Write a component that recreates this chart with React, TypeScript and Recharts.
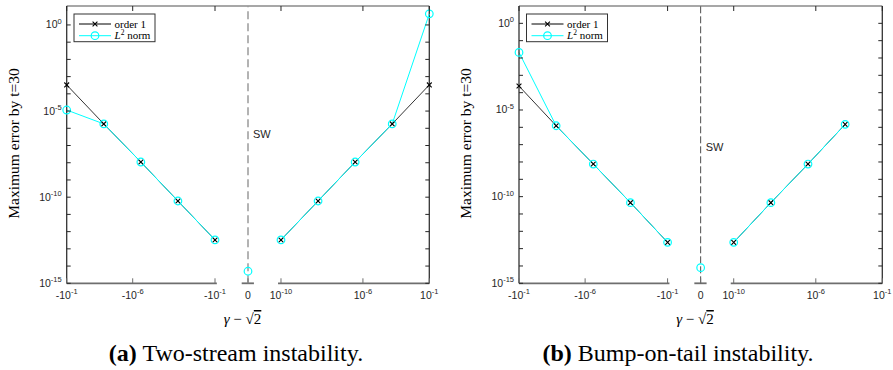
import React from "react";
import { ComposedChart, Line, XAxis, YAxis, ReferenceLine, ReferenceDot } from "recharts";

// gamma - sqrt(2) = -10^e on the left branch, +10^e on the right branch
const leftExps = [-1, -4, -7, -10, -13];
const rightExps = [-13, -10, -7, -4, -1];

// (a) Two-stream instability
const order1LeftA = [3.3e-4, 1.8e-6, 1.1e-8, 6.0e-11, 3.3e-13];
const l2LeftA = [1.15e-5, 1.8e-6, 1.1e-8, 6.0e-11, 3.3e-13];
const order1RightA = [3.3e-13, 6.0e-11, 1.1e-8, 1.8e-6, 3.3e-4];
const l2RightA = [3.3e-13, 6.0e-11, 1.1e-8, 1.8e-6, 4.4];
const l2ZeroA = 5e-15;

// (b) Bump-on-tail instability
const order1LeftB = [2.4e-4, 1.23e-6, 7.6e-9, 4.5e-11, 2.3e-13];
const l2LeftB = [2.1e-2, 1.23e-6, 7.6e-9, 4.5e-11, 2.3e-13];
const order1RightB = [2.3e-13, 4.5e-11, 7.6e-9, 1.48e-6];
const l2RightB = [2.3e-13, 4.5e-11, 7.6e-9, 1.48e-6];
const l2ZeroB = 8e-15;

// broken x axis: tick positions (axis units) and their labels
const xTickPos = [0, 1.78, 4, 4.89, 5.78, 7.99, 9.78];
const xTickBase = ["-10", "-10", "-10", "0", "10", "10", "10"];
const xTickExp = ["-1", "-6", "-1", "", "-10", "-6", "-1"];
const axisPieces = [[0, 4.05], [4.72, 5.05], [5.7, 9.78]];
const yDecades = [-15, -14, -13, -12, -11, -10, -9, -8, -7, -6, -5, -4, -3, -2, -1, 0];

const GAP = 0.89;
const ZERO = 4 + GAP;
const X_MAX = 4 + 2 * GAP + 4;
const posLeft = (e: number) => (-1 - e) / 3;
const posRight = (e: number) => 4 + 2 * GAP + (e + 13) / 3;

const SANS = "'Liberation Sans', Arial, Helvetica, sans-serif";
const SERIF = "'Liberation Serif', 'Times New Roman', Times, serif";
const AXIS = "#262626";
const CYAN = "#00ffff";

const PLOT_TOP = 6;
const PLOT_BOTTOM = 283.3;
const CH = 310;

const branch = (exps: number[], vals: number[], side: "L" | "R") =>
  vals.map((v, i) => ({ x: side === "L" ? posLeft(exps[i]) : posRight(exps[i]), y: v }));

const XMark = (props: any) => {
  const { cx, cy } = props;
  if (cx == null || cy == null) return null;
  const s = 2.4;
  return (
    <path
      key={`x-${cx}-${cy}`}
      d={`M${cx - s},${cy - s}L${cx + s},${cy + s}M${cx - s},${cy + s}L${cx + s},${cy - s}`}
      stroke="#000"
      strokeWidth={1.1}
    />
  );
};

const circleDot = { r: 3.8, stroke: CYAN, strokeWidth: 1.2, fill: "none" };

interface PanelProps {
  left: number;
  width: number;
  plotLeft: number;
  yTopExp: number;
  order1Left: number[];
  l2Left: number[];
  order1Right: number[];
  l2Right: number[];
  l2Zero: number;
  swY: number;
  dashColor: string;
  dashWidth: number;
  dashArray: string;
}

const Panel: React.FC<PanelProps> = (p) => {
  const plotRight = p.width - 10.7;
  const yMax = 10 ** p.yTopExp;

  const yTick = (props: any) => {
    const { y, payload } = props;
    const e = Math.round(Math.log10(payload.value));
    return (
      <g>
        <line x1={p.plotLeft} x2={p.plotLeft + 4} y1={y} y2={y} stroke={AXIS} strokeWidth={1} />
        <line x1={plotRight} x2={plotRight - 4} y1={y} y2={y} stroke={AXIS} strokeWidth={1} />
        {e % 5 === 0 && (
          <text x={p.plotLeft - 5} y={y + 3.5} textAnchor="end" fontFamily={SANS} fontSize={10.5} fill={AXIS}>
            <tspan>10</tspan>
            <tspan dy={-4.5} fontSize={7.5}>{e === 0 ? "0" : String(e)}</tspan>
          </text>
        )}
      </g>
    );
  };

  const xTick = (props: any) => {
    const { x, payload } = props;
    const i = xTickPos.indexOf(payload.value);
    const isZero = xTickBase[i] === "0";
    return (
      <g>
        <line x1={x} x2={x} y1={PLOT_BOTTOM} y2={PLOT_BOTTOM - 5} stroke="#6e6e6e" strokeWidth={1} />
        {!isZero && <line x1={x} x2={x} y1={PLOT_TOP} y2={PLOT_TOP + 5} stroke={AXIS} strokeWidth={1} />}
        <text x={x} y={298.5} textAnchor="middle" fontFamily={SANS} fontSize={10.5} fill={AXIS}>
          <tspan>{xTickBase[i]}</tspan>
          {xTickExp[i] && <tspan dy={-4.5} fontSize={7.5}>{xTickExp[i]}</tspan>}
        </text>
      </g>
    );
  };

  const rExps = rightExps.slice(0, p.order1Right.length);

  return (
    <div style={{ position: "absolute", left: p.left, top: 0 }}>
      <ComposedChart
        width={p.width}
        height={CH}
        margin={{ top: PLOT_TOP, right: 10.7, bottom: CH - PLOT_BOTTOM - 20, left: p.plotLeft - 60 }}
      >
        <XAxis
          type="number"
          dataKey="x"
          domain={[0, X_MAX]}
          ticks={xTickPos}
          interval={0}
          tick={xTick}
          tickLine={false}
          axisLine={false}
          height={20}
        />
        <YAxis
          type="number"
          scale="log"
          domain={[1e-15, yMax]}
          ticks={yDecades.map((e) => 10 ** e)}
          interval={0}
          tick={yTick}
          tickLine={false}
          axisLine={{ stroke: "#333", strokeWidth: 1.3 }}
          width={60}
        />
        <ReferenceLine y={yMax} stroke="#8a8a8a" strokeWidth={1.3} ifOverflow="visible" />
        <ReferenceLine x={X_MAX} stroke="#333" strokeWidth={1.3} ifOverflow="visible" />
        {axisPieces.map(([a, b]) => (
          <ReferenceLine
            key={a}
            segment={[{ x: a, y: 1e-15 }, { x: b, y: 1e-15 }]}
            stroke="#6e6e6e"
            strokeWidth={1.8}
            ifOverflow="visible"
          />
        ))}
        <ReferenceLine
          x={ZERO}
          stroke={p.dashColor}
          strokeWidth={p.dashWidth}
          strokeDasharray={p.dashArray}
          ifOverflow="visible"
        />
        <ReferenceDot
          x={ZERO}
          y={p.swY}
          r={0}
          fill="none"
          stroke="none"
          label={{ value: "SW", position: "right", offset: 5, fontSize: 11, fill: AXIS, fontFamily: SANS }}
        />
        <Line data={branch(leftExps, p.order1Left, "L")} dataKey="y" stroke="#000" strokeWidth={0.8} dot={XMark} activeDot={false} isAnimationActive={false} />
        <Line data={branch(rExps, p.order1Right, "R")} dataKey="y" stroke="#000" strokeWidth={0.8} dot={XMark} activeDot={false} isAnimationActive={false} />
        <Line data={branch(leftExps, p.l2Left, "L")} dataKey="y" stroke={CYAN} strokeWidth={1} dot={circleDot} activeDot={false} isAnimationActive={false} />
        <Line data={branch(rExps, p.l2Right, "R")} dataKey="y" stroke={CYAN} strokeWidth={1} dot={circleDot} activeDot={false} isAnimationActive={false} />
        <Line data={[{ x: ZERO, y: p.l2Zero }]} dataKey="y" stroke="none" dot={circleDot} activeDot={false} isAnimationActive={false} />
      </ComposedChart>
    </div>
  );
};

const LegendBox = ({ x, y }: { x: number; y: number }) => (
  <g>
    <rect x={x} y={y} width={81} height={27.7} fill="#fff" stroke="#333" strokeWidth={1} />
    <line x1={x + 5} x2={x + 37} y1={y + 10} y2={y + 10} stroke="#000" strokeWidth={1} />
    <path
      d={`M${x + 18.6},${y + 7.6}L${x + 23.4},${y + 12.4}M${x + 18.6},${y + 12.4}L${x + 23.4},${y + 7.6}`}
      stroke="#000"
      strokeWidth={1.1}
    />
    <text x={x + 40.5} y={y + 13.5} fontFamily={SERIF} fontSize={11} fill="#000">order 1</text>
    <line x1={x + 5} x2={x + 37} y1={y + 21.7} y2={y + 21.7} stroke={CYAN} strokeWidth={1} />
    <circle cx={x + 21} cy={y + 21.7} r={3.8} fill="none" stroke={CYAN} strokeWidth={1.2} />
    <text x={x + 40.5} y={y + 25.2} fontFamily={SERIF} fontSize={11} fill="#000">
      <tspan fontStyle="italic">L</tspan>
      <tspan dy={-4} fontSize={7.5}>2</tspan>
      <tspan dy={4}> norm</tspan>
    </text>
  </g>
);

const Overlay = () => (
  <svg width={893} height={370} style={{ position: "absolute", left: 0, top: 0, pointerEvents: "none" }}>
    <LegendBox x={74} y={14} />
    <LegendBox x={526.5} y={14} />
    {[18.5, 471].map((x) => (
      <text key={x} transform={`translate(${x},143.5) rotate(-90)`} textAnchor="middle" fontFamily={SERIF} fontSize={15.5} fill="#000">
        Maximum error by t=30
      </text>
    ))}
    {[242.5, 695].map((x) => (
      <text key={x} x={x} y={324} textAnchor="middle" fontFamily={SERIF} fontSize={15} fill="#000">
        <tspan fontStyle="italic">γ</tspan>
        <tspan> − √</tspan>
        <tspan textDecoration="overline">2</tspan>
      </text>
    ))}
    <text x={236} y={361} textAnchor="middle" fontFamily={SERIF} fontSize={24} fill="#000">
      <tspan fontWeight="bold">(a)</tspan>
      <tspan> Two-stream instability.</tspan>
    </text>
    <text x={678} y={361} textAnchor="middle" fontFamily={SERIF} fontSize={24} fill="#000">
      <tspan fontWeight="bold">(b)</tspan>
      <tspan> Bump-on-tail instability.</tspan>
    </text>
  </svg>
);

export default function App() {
  return (
    <div style={{ position: "absolute", left: 0, top: 0, width: 893, height: 370, background: "#fff", overflow: "hidden" }}>
      <Panel
        left={0}
        width={440}
        plotLeft={66.7}
        yTopExp={1.1}
        order1Left={order1LeftA}
        l2Left={l2LeftA}
        order1Right={order1RightA}
        l2Right={l2RightA}
        l2Zero={l2ZeroA}
        swY={4.7e-7}
        dashColor="#9a9a9a"
        dashWidth={1.5}
        dashArray="8 4"
      />
      <Panel
        left={446}
        width={447}
        plotLeft={73}
        yTopExp={1.0}
        order1Left={order1LeftB}
        l2Left={l2LeftB}
        order1Right={order1RightB}
        l2Right={l2RightB}
        l2Zero={l2ZeroB}
        swY={7.2e-8}
        dashColor="#4d4d4d"
        dashWidth={1}
        dashArray="7 3"
      />
      <Overlay />
    </div>
  );
}
